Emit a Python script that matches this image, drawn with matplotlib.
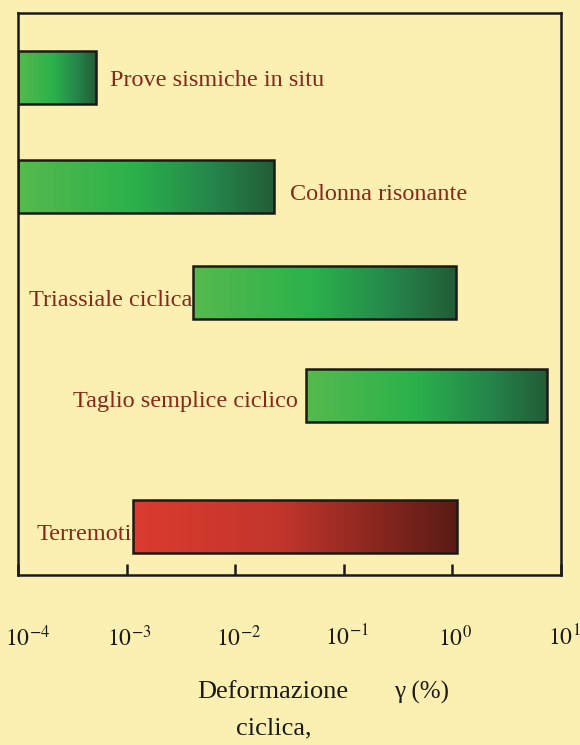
import matplotlib
matplotlib.use("Agg")
import matplotlib.pyplot as plt
import numpy as np
from matplotlib.colors import LinearSegmentedColormap
from matplotlib.ticker import FixedLocator, NullFormatter
import matplotlib.transforms as mtransforms

# test types and the cyclic shear strain range they cover (%)
tests = ["Prove sismiche in situ", "Colonna risonante", "Triassiale ciclica",
         "Taglio semplice ciclico", "Terremoti"]
gamma_min = [1e-4, 1e-4, 4.1e-3, 4.5e-2, 1.15e-3]
gamma_max = [5.2e-4, 2.3e-2, 1.08, 7.4, 1.1]
decades = [-4, -3, -2, -1, 0, 1]

# layout (axes height in pixels, bar centres measured from the bottom)
ypos = [498, 389, 283, 180, 49]
bar_h = 53
label_side = ["right", "right", "left", "left", "left"]
label_gap = [14, 16, 1, 8, 1]       # px between bar and label
label_dy = [-4, -8, -8, -7, -8]

bg = "#fbf0b2"
text_red = "#86281a"
greens = LinearSegmentedColormap.from_list(
    "g", [(0, "#55b94c"), (0.45, "#2bb14b"), (0.75, "#24874a"), (1, "#225c37")])
reds = LinearSegmentedColormap.from_list(
    "r", [(0, "#db3a2f"), (0.45, "#c2352b"), (1, "#5a1b15")])

plt.rcParams["font.family"] = ["Liberation Serif", "DejaVu Serif"]
plt.rcParams["mathtext.fontset"] = "stix"

fig = plt.figure(figsize=(5.8, 7.45), dpi=100, facecolor=bg)
ax = fig.add_axes([18/580, 1 - 575/745, 543/580, 562/745])
ax.set_facecolor(bg)
ax.set_xscale("log")
ax.set_xlim(1e-4, 1e1)
ax.set_ylim(0, 562)

for i in range(len(tests)):
    lo, hi, yc = gamma_min[i], gamma_max[i], ypos[i]
    xe = np.geomspace(lo, hi, 200)
    ye = [yc - bar_h/2, yc + bar_h/2]
    c = np.linspace(0, 1, 199).reshape(1, -1)
    cmap = reds if tests[i] == "Terremoti" else greens
    ax.pcolormesh(xe, ye, c, cmap=cmap, shading="flat", zorder=2)
    ax.barh(yc, hi - lo, left=lo, height=bar_h, fill=False,
            edgecolor="#1a1a14", linewidth=1.8, zorder=3)
    if label_side[i] == "right":
        ax.annotate(tests[i], (hi, yc), xytext=(label_gap[i], label_dy[i]),
                    textcoords="offset pixels", ha="left", va="center",
                    fontsize=17.5, color=text_red, zorder=4)
    else:
        ax.annotate(tests[i], (lo, yc), xytext=(-label_gap[i], label_dy[i]),
                    textcoords="offset pixels", ha="right", va="center",
                    fontsize=17.5, color=text_red, zorder=4)

for s in ax.spines.values():
    s.set_color("#1a1a1a")
    s.set_linewidth(1.8)

ax.xaxis.set_major_locator(FixedLocator([10.0**d for d in decades]))
ax.xaxis.set_minor_locator(FixedLocator([]))
ax.xaxis.set_major_formatter(NullFormatter())
ax.tick_params(axis="x", direction="in", length=8, width=1.8, colors="#1a1a1a")
ax.set_yticks([])

# decade labels drawn by hand so the first one can sit inside the figure
trans = mtransforms.blended_transform_factory(ax.transData, fig.transFigure)
for d in decades:
    dx = 10 if d == decades[0] else 3
    ax.annotate(r"$10^{%d}$" % d, (10.0**d, 1 - 638/745), xycoords=trans,
                xytext=(dx, 0), textcoords="offset pixels", ha="center",
                va="center", fontsize=17, color="#1a1a1a", annotation_clip=False)

fig.text(273/580, 1 - 692/745, "Deformazione", ha="center", va="center",
         fontsize=19, color="#1a1a1a")
fig.text(422/580, 1 - 692/745, "γ (%)", ha="center", va="center",
         fontsize=18, color="#1a1a1a")
fig.text(274/580, 1 - 728/745, "ciclica,", ha="center", va="center",
         fontsize=19, color="#1a1a1a")

fig.savefig("out.png", dpi=100, facecolor=bg)
